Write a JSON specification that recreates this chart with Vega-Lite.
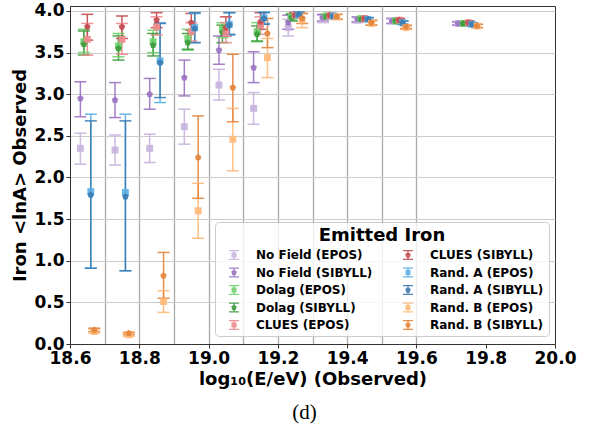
{
  "$schema": "https://vega.github.io/schema/vega-lite/v6.json",
  "width": 485,
  "height": 338,
  "autosize": {"type": "none"},
  "padding": {"left": 70, "top": 6, "right": 37, "bottom": 86},
  "title": {"text": "(d)", "orient": "bottom", "anchor": "middle", "font": "Liberation Serif", "fontSize": 21, "fontWeight": "normal", "color": "black", "offset": 14, "dx": -8},
  "config": {
    "view": {"stroke": "#333333", "strokeWidth": 1},
    "font": "DejaVu Sans"
  },
  "data": {"values": [
    {"s":"No Field (EPOS)","m":"EPOS","x":18.63,"y":2.35,"lo":2.16,"hi":2.53},
    {"s":"No Field (EPOS)","m":"EPOS","x":18.73,"y":2.33,"lo":2.15,"hi":2.51},
    {"s":"No Field (EPOS)","m":"EPOS","x":18.83,"y":2.35,"lo":2.18,"hi":2.52},
    {"s":"No Field (EPOS)","m":"EPOS","x":18.93,"y":2.61,"lo":2.40,"hi":2.82},
    {"s":"No Field (EPOS)","m":"EPOS","x":19.03,"y":3.11,"lo":2.93,"hi":3.30},
    {"s":"No Field (EPOS)","m":"EPOS","x":19.13,"y":2.83,"lo":2.64,"hi":3.02},
    {"s":"No Field (EPOS)","m":"EPOS","x":19.23,"y":3.80,"lo":3.70,"hi":3.90},
    {"s":"No Field (EPOS)","m":"EPOS","x":19.33,"y":3.91,"lo":3.86,"hi":3.95},
    {"s":"No Field (EPOS)","m":"EPOS","x":19.43,"y":3.89,"lo":3.86,"hi":3.92},
    {"s":"No Field (EPOS)","m":"EPOS","x":19.53,"y":3.88,"lo":3.85,"hi":3.91},
    {"s":"No Field (EPOS)","m":"EPOS","x":19.72,"y":3.85,"lo":3.83,"hi":3.87},
    {"s":"No Field (SIBYLL)","m":"SIBYLL","x":18.63,"y":2.95,"lo":2.73,"hi":3.15},
    {"s":"No Field (SIBYLL)","m":"SIBYLL","x":18.73,"y":2.93,"lo":2.72,"hi":3.14},
    {"s":"No Field (SIBYLL)","m":"SIBYLL","x":18.83,"y":3.00,"lo":2.82,"hi":3.19},
    {"s":"No Field (SIBYLL)","m":"SIBYLL","x":18.93,"y":3.20,"lo":2.98,"hi":3.41},
    {"s":"No Field (SIBYLL)","m":"SIBYLL","x":19.03,"y":3.53,"lo":3.36,"hi":3.70},
    {"s":"No Field (SIBYLL)","m":"SIBYLL","x":19.13,"y":3.32,"lo":3.14,"hi":3.51},
    {"s":"No Field (SIBYLL)","m":"SIBYLL","x":19.23,"y":3.86,"lo":3.78,"hi":3.95},
    {"s":"No Field (SIBYLL)","m":"SIBYLL","x":19.33,"y":3.92,"lo":3.88,"hi":3.96},
    {"s":"No Field (SIBYLL)","m":"SIBYLL","x":19.43,"y":3.90,"lo":3.87,"hi":3.93},
    {"s":"No Field (SIBYLL)","m":"SIBYLL","x":19.53,"y":3.88,"lo":3.85,"hi":3.91},
    {"s":"No Field (SIBYLL)","m":"SIBYLL","x":19.72,"y":3.85,"lo":3.83,"hi":3.87},
    {"s":"Dolag (EPOS)","m":"EPOS","x":18.64,"y":3.63,"lo":3.50,"hi":3.78},
    {"s":"Dolag (EPOS)","m":"EPOS","x":18.74,"y":3.58,"lo":3.45,"hi":3.73},
    {"s":"Dolag (EPOS)","m":"EPOS","x":18.84,"y":3.63,"lo":3.50,"hi":3.77},
    {"s":"Dolag (EPOS)","m":"EPOS","x":18.94,"y":3.67,"lo":3.53,"hi":3.78},
    {"s":"Dolag (EPOS)","m":"EPOS","x":19.04,"y":3.78,"lo":3.68,"hi":3.86},
    {"s":"Dolag (EPOS)","m":"EPOS","x":19.14,"y":3.75,"lo":3.63,"hi":3.86},
    {"s":"Dolag (EPOS)","m":"EPOS","x":19.24,"y":3.93,"lo":3.89,"hi":3.97},
    {"s":"Dolag (EPOS)","m":"EPOS","x":19.34,"y":3.94,"lo":3.92,"hi":3.96},
    {"s":"Dolag (EPOS)","m":"EPOS","x":19.44,"y":3.91,"lo":3.89,"hi":3.93},
    {"s":"Dolag (EPOS)","m":"EPOS","x":19.54,"y":3.88,"lo":3.86,"hi":3.90},
    {"s":"Dolag (EPOS)","m":"EPOS","x":19.735,"y":3.85,"lo":3.83,"hi":3.87},
    {"s":"Dolag (SIBYLL)","m":"SIBYLL","x":18.64,"y":3.60,"lo":3.47,"hi":3.76},
    {"s":"Dolag (SIBYLL)","m":"SIBYLL","x":18.74,"y":3.55,"lo":3.41,"hi":3.70},
    {"s":"Dolag (SIBYLL)","m":"SIBYLL","x":18.84,"y":3.59,"lo":3.46,"hi":3.73},
    {"s":"Dolag (SIBYLL)","m":"SIBYLL","x":18.94,"y":3.62,"lo":3.54,"hi":3.73},
    {"s":"Dolag (SIBYLL)","m":"SIBYLL","x":19.04,"y":3.74,"lo":3.62,"hi":3.83},
    {"s":"Dolag (SIBYLL)","m":"SIBYLL","x":19.14,"y":3.72,"lo":3.64,"hi":3.82},
    {"s":"Dolag (SIBYLL)","m":"SIBYLL","x":19.24,"y":3.92,"lo":3.88,"hi":3.96},
    {"s":"Dolag (SIBYLL)","m":"SIBYLL","x":19.34,"y":3.93,"lo":3.91,"hi":3.95},
    {"s":"Dolag (SIBYLL)","m":"SIBYLL","x":19.44,"y":3.90,"lo":3.88,"hi":3.92},
    {"s":"Dolag (SIBYLL)","m":"SIBYLL","x":19.54,"y":3.88,"lo":3.86,"hi":3.90},
    {"s":"Dolag (SIBYLL)","m":"SIBYLL","x":19.735,"y":3.85,"lo":3.83,"hi":3.87},
    {"s":"CLUES (EPOS)","m":"EPOS","x":18.65,"y":3.66,"lo":3.47,"hi":3.85},
    {"s":"CLUES (EPOS)","m":"EPOS","x":18.75,"y":3.66,"lo":3.48,"hi":3.85},
    {"s":"CLUES (EPOS)","m":"EPOS","x":18.85,"y":3.81,"lo":3.71,"hi":3.93},
    {"s":"CLUES (EPOS)","m":"EPOS","x":18.95,"y":3.75,"lo":3.64,"hi":3.86},
    {"s":"CLUES (EPOS)","m":"EPOS","x":19.05,"y":3.73,"lo":3.62,"hi":3.86},
    {"s":"CLUES (EPOS)","m":"EPOS","x":19.15,"y":3.83,"lo":3.72,"hi":3.93},
    {"s":"CLUES (EPOS)","m":"EPOS","x":19.25,"y":3.95,"lo":3.92,"hi":3.98},
    {"s":"CLUES (EPOS)","m":"EPOS","x":19.35,"y":3.94,"lo":3.92,"hi":3.96},
    {"s":"CLUES (EPOS)","m":"EPOS","x":19.45,"y":3.91,"lo":3.89,"hi":3.93},
    {"s":"CLUES (EPOS)","m":"EPOS","x":19.55,"y":3.89,"lo":3.87,"hi":3.91},
    {"s":"CLUES (EPOS)","m":"EPOS","x":19.75,"y":3.86,"lo":3.84,"hi":3.88},
    {"s":"CLUES (SIBYLL)","m":"SIBYLL","x":18.65,"y":3.81,"lo":3.65,"hi":3.96},
    {"s":"CLUES (SIBYLL)","m":"SIBYLL","x":18.75,"y":3.81,"lo":3.67,"hi":3.94},
    {"s":"CLUES (SIBYLL)","m":"SIBYLL","x":18.85,"y":3.89,"lo":3.80,"hi":3.98},
    {"s":"CLUES (SIBYLL)","m":"SIBYLL","x":18.95,"y":3.86,"lo":3.77,"hi":3.97},
    {"s":"CLUES (SIBYLL)","m":"SIBYLL","x":19.05,"y":3.80,"lo":3.70,"hi":3.93},
    {"s":"CLUES (SIBYLL)","m":"SIBYLL","x":19.15,"y":3.87,"lo":3.78,"hi":3.98},
    {"s":"CLUES (SIBYLL)","m":"SIBYLL","x":19.25,"y":3.95,"lo":3.92,"hi":3.98},
    {"s":"CLUES (SIBYLL)","m":"SIBYLL","x":19.35,"y":3.95,"lo":3.93,"hi":3.97},
    {"s":"CLUES (SIBYLL)","m":"SIBYLL","x":19.45,"y":3.91,"lo":3.89,"hi":3.93},
    {"s":"CLUES (SIBYLL)","m":"SIBYLL","x":19.55,"y":3.89,"lo":3.87,"hi":3.91},
    {"s":"CLUES (SIBYLL)","m":"SIBYLL","x":19.75,"y":3.86,"lo":3.84,"hi":3.88},
    {"s":"Rand. A (EPOS)","m":"EPOS","x":18.66,"y":1.83,"lo":0.91,"hi":2.76},
    {"s":"Rand. A (EPOS)","m":"EPOS","x":18.76,"y":1.82,"lo":0.88,"hi":2.76},
    {"s":"Rand. A (EPOS)","m":"EPOS","x":18.86,"y":3.40,"lo":2.90,"hi":3.86},
    {"s":"Rand. A (EPOS)","m":"EPOS","x":18.96,"y":3.80,"lo":3.62,"hi":3.97},
    {"s":"Rand. A (EPOS)","m":"EPOS","x":19.06,"y":3.84,"lo":3.71,"hi":3.98},
    {"s":"Rand. A (EPOS)","m":"EPOS","x":19.16,"y":3.92,"lo":3.85,"hi":3.99},
    {"s":"Rand. A (EPOS)","m":"EPOS","x":19.26,"y":3.95,"lo":3.92,"hi":3.98},
    {"s":"Rand. A (EPOS)","m":"EPOS","x":19.36,"y":3.94,"lo":3.92,"hi":3.96},
    {"s":"Rand. A (EPOS)","m":"EPOS","x":19.46,"y":3.90,"lo":3.88,"hi":3.92},
    {"s":"Rand. A (EPOS)","m":"EPOS","x":19.56,"y":3.86,"lo":3.84,"hi":3.88},
    {"s":"Rand. A (EPOS)","m":"EPOS","x":19.76,"y":3.84,"lo":3.82,"hi":3.86},
    {"s":"Rand. A (SIBYLL)","m":"SIBYLL","x":18.66,"y":1.79,"lo":0.91,"hi":2.68},
    {"s":"Rand. A (SIBYLL)","m":"SIBYLL","x":18.76,"y":1.77,"lo":0.88,"hi":2.68},
    {"s":"Rand. A (SIBYLL)","m":"SIBYLL","x":18.86,"y":3.38,"lo":2.96,"hi":3.85},
    {"s":"Rand. A (SIBYLL)","m":"SIBYLL","x":18.96,"y":3.79,"lo":3.62,"hi":3.98},
    {"s":"Rand. A (SIBYLL)","m":"SIBYLL","x":19.06,"y":3.83,"lo":3.72,"hi":3.98},
    {"s":"Rand. A (SIBYLL)","m":"SIBYLL","x":19.16,"y":3.91,"lo":3.84,"hi":3.98},
    {"s":"Rand. A (SIBYLL)","m":"SIBYLL","x":19.26,"y":3.96,"lo":3.93,"hi":3.99},
    {"s":"Rand. A (SIBYLL)","m":"SIBYLL","x":19.36,"y":3.94,"lo":3.92,"hi":3.96},
    {"s":"Rand. A (SIBYLL)","m":"SIBYLL","x":19.46,"y":3.90,"lo":3.88,"hi":3.92},
    {"s":"Rand. A (SIBYLL)","m":"SIBYLL","x":19.56,"y":3.86,"lo":3.84,"hi":3.88},
    {"s":"Rand. A (SIBYLL)","m":"SIBYLL","x":19.76,"y":3.84,"lo":3.82,"hi":3.86},
    {"s":"Rand. B (EPOS)","m":"EPOS","x":18.67,"y":0.15,"lo":0.13,"hi":0.18},
    {"s":"Rand. B (EPOS)","m":"EPOS","x":18.77,"y":0.11,"lo":0.09,"hi":0.13},
    {"s":"Rand. B (EPOS)","m":"EPOS","x":18.87,"y":0.51,"lo":0.38,"hi":0.64},
    {"s":"Rand. B (EPOS)","m":"EPOS","x":18.97,"y":1.60,"lo":1.27,"hi":1.93},
    {"s":"Rand. B (EPOS)","m":"EPOS","x":19.07,"y":2.46,"lo":2.08,"hi":2.83},
    {"s":"Rand. B (EPOS)","m":"EPOS","x":19.17,"y":3.44,"lo":3.20,"hi":3.67},
    {"s":"Rand. B (EPOS)","m":"EPOS","x":19.27,"y":3.89,"lo":3.80,"hi":3.97},
    {"s":"Rand. B (EPOS)","m":"EPOS","x":19.37,"y":3.93,"lo":3.90,"hi":3.96},
    {"s":"Rand. B (EPOS)","m":"EPOS","x":19.47,"y":3.85,"lo":3.83,"hi":3.88},
    {"s":"Rand. B (EPOS)","m":"EPOS","x":19.57,"y":3.80,"lo":3.78,"hi":3.82},
    {"s":"Rand. B (EPOS)","m":"EPOS","x":19.775,"y":3.82,"lo":3.80,"hi":3.84},
    {"s":"Rand. B (SIBYLL)","m":"SIBYLL","x":18.67,"y":0.17,"lo":0.15,"hi":0.19},
    {"s":"Rand. B (SIBYLL)","m":"SIBYLL","x":18.77,"y":0.13,"lo":0.11,"hi":0.14},
    {"s":"Rand. B (SIBYLL)","m":"SIBYLL","x":18.87,"y":0.82,"lo":0.55,"hi":1.10},
    {"s":"Rand. B (SIBYLL)","m":"SIBYLL","x":18.97,"y":2.24,"lo":1.75,"hi":2.74},
    {"s":"Rand. B (SIBYLL)","m":"SIBYLL","x":19.07,"y":3.08,"lo":2.67,"hi":3.48},
    {"s":"Rand. B (SIBYLL)","m":"SIBYLL","x":19.17,"y":3.73,"lo":3.56,"hi":3.91},
    {"s":"Rand. B (SIBYLL)","m":"SIBYLL","x":19.27,"y":3.91,"lo":3.85,"hi":3.97},
    {"s":"Rand. B (SIBYLL)","m":"SIBYLL","x":19.37,"y":3.93,"lo":3.90,"hi":3.96},
    {"s":"Rand. B (SIBYLL)","m":"SIBYLL","x":19.47,"y":3.86,"lo":3.83,"hi":3.89},
    {"s":"Rand. B (SIBYLL)","m":"SIBYLL","x":19.57,"y":3.81,"lo":3.79,"hi":3.83},
    {"s":"Rand. B (SIBYLL)","m":"SIBYLL","x":19.775,"y":3.82,"lo":3.80,"hi":3.84}
  ]},
  "encoding": {
    "x": {"field": "x", "type": "quantitative",
      "scale": {"domain": [18.6, 20.0], "nice": false, "zero": false},
      "axis": {
        "values": [18.6,18.7,18.8,18.9,19.0,19.1,19.2,19.3,19.4,19.5,19.6,19.7,19.8,19.9,20.0],
        "labelExpr": "round(datum.value*10) % 2 == 0 ? format(datum.value, '.1f') : ''",
        "tickOpacity": {"condition": {"test": "round(datum.value*10) % 2 == 1", "value": 0}, "value": 1},
        "gridOpacity": {"condition": {"test": "datum.value > 19.65 || datum.value < 18.65", "value": 0}, "value": 1},
        "grid": true, "gridColor": "#aaaaaa", "gridWidth": 1.3,
        "domainColor": "#333333", "tickColor": "#333333", "tickSize": 4,
        "labelFont": "DejaVu Sans", "labelFontSize": 17, "labelFontWeight": "bold", "labelColor": "black", "labelPadding": 2, "labelFlush": false,
        "title": "log₁₀(E/eV) (Observed)", "titleFont": "DejaVu Sans", "titleFontSize": 18, "titleFontWeight": "bold", "titleColor": "black", "titlePadding": 4
      }
    },
    "y": {"field": "y", "type": "quantitative",
      "scale": {"domain": [0, 4.06], "nice": false, "zero": false},
      "axis": {
        "values": [0, 0.5, 1.0, 1.5, 2.0, 2.5, 3.0, 3.5, 4.0],
        "format": ".1f",
        "grid": true, "gridColor": "#cccccc", "gridWidth": 1,
        "domainColor": "#333333", "tickColor": "#333333", "tickSize": 4,
        "labelFont": "DejaVu Sans", "labelFontSize": 17, "labelFontWeight": "bold", "labelColor": "black", "labelPadding": 2, "labelFlush": false,
        "title": "Iron <lnA> Observed", "titleFont": "DejaVu Sans", "titleFontSize": 18, "titleFontWeight": "bold", "titleColor": "black", "titlePadding": 4
      }
    },
    "color": {"field": "s", "type": "nominal", "legend": null,
      "scale": {
        "domain": ["No Field (EPOS)", "No Field (SIBYLL)", "Dolag (EPOS)", "Dolag (SIBYLL)", "CLUES (EPOS)", "CLUES (SIBYLL)", "Rand. A (EPOS)", "Rand. A (SIBYLL)", "Rand. B (EPOS)", "Rand. B (SIBYLL)"],
        "range": ["#c7b3de", "#9b72c3", "#6bd36b", "#3d9a3d", "#ec8a8d", "#c4494e", "#5aaee6", "#3a7bb0", "#ffb878", "#e3843a"]
      }
    }
  },
  "resolve": {"scale": {"shape": "independent"}, "legend": {"color": "independent", "shape": "independent"}},
  "layer": [
    {"mark": {"type": "rule", "strokeWidth": 1.5, "opacity": 0.9},
     "encoding": {"y": {"field": "lo", "type": "quantitative"}, "y2": {"field": "hi"}}},
    {"mark": {"type": "tick", "orient": "horizontal", "size": 12, "thickness": 1.5, "opacity": 0.9},
     "encoding": {"y": {"field": "lo", "type": "quantitative"}}},
    {"mark": {"type": "tick", "orient": "horizontal", "size": 12, "thickness": 1.5, "opacity": 0.9},
     "encoding": {"y": {"field": "hi", "type": "quantitative"}}},
    {"mark": {"type": "point", "filled": true, "size": 48, "opacity": 0.9},
     "encoding": {
       "shape": {"field": "m", "type": "nominal", "legend": null,
         "scale": {"domain": ["EPOS", "SIBYLL"], "range": ["square", "M0,-1L0.951,-0.309L0.588,0.809L-0.588,0.809L-0.951,-0.309Z"]}}
     }},
    {"transform": [{"filter": "false"}],
     "mark": {"type": "point", "filled": true, "size": 196, "opacity": 0.9},
     "encoding": {
       "color": {"field": "s", "type": "nominal",
         "legend": {
           "orient": "none", "legendX": 145, "legendY": 216,
           "title": "Emitted Iron", "titleFont": "DejaVu Sans", "titleFontSize": 18, "titleFontWeight": "bold", "titleColor": "black", "titleAnchor": "middle", "titleAlign": "center", "titlePadding": 3,
           "columns": 2, "columnPadding": 21, "rowPadding": 4.5,
           "labelFont": "DejaVu Sans", "labelFontSize": 12, "labelFontWeight": "bold", "labelColor": "black", "labelOffset": 15, "labelLimit": 300,
           "symbolSize": 196, "symbolStrokeWidth": 0, "symbolOffset": 7,
           "padding": 5, "fillColor": "rgba(255,255,255,0.8)", "strokeColor": "#cccccc", "cornerRadius": 4
         }},
       "shape": {"field": "s", "type": "nominal",
         "legend": {
           "orient": "none", "legendX": 145, "legendY": 216,
           "title": "Emitted Iron", "titleFont": "DejaVu Sans", "titleFontSize": 18, "titleFontWeight": "bold", "titleColor": "black", "titleAnchor": "middle", "titleAlign": "center", "titlePadding": 3,
           "columns": 2, "columnPadding": 21, "rowPadding": 4.5,
           "labelFont": "DejaVu Sans", "labelFontSize": 12, "labelFontWeight": "bold", "labelColor": "black", "labelOffset": 15, "labelLimit": 300,
           "symbolSize": 196, "symbolStrokeWidth": 0, "symbolOffset": 7,
           "padding": 5, "fillColor": "rgba(255,255,255,0.8)", "strokeColor": "#cccccc", "cornerRadius": 4
         },
         "scale": {
           "domain": ["No Field (EPOS)", "No Field (SIBYLL)", "Dolag (EPOS)", "Dolag (SIBYLL)", "CLUES (EPOS)", "CLUES (SIBYLL)", "Rand. A (EPOS)", "Rand. A (SIBYLL)", "Rand. B (EPOS)", "Rand. B (SIBYLL)"],
           "range": [
             "M-0.72,-0.72H0.72V-0.52H-0.72ZM-0.1,-0.72H0.1V0.72H-0.1ZM-0.72,0.52H0.72V0.72H-0.72ZM-0.36,-0.36H0.36V0.36H-0.36Z",
             "M-0.72,-0.72H0.72V-0.52H-0.72ZM-0.1,-0.72H0.1V0.72H-0.1ZM-0.72,0.52H0.72V0.72H-0.72ZM0,-0.42L0.4,-0.13L0.25,0.34L-0.25,0.34L-0.4,-0.13Z",
             "M-0.72,-0.72H0.72V-0.52H-0.72ZM-0.1,-0.72H0.1V0.72H-0.1ZM-0.72,0.52H0.72V0.72H-0.72ZM-0.36,-0.36H0.36V0.36H-0.36Z",
             "M-0.72,-0.72H0.72V-0.52H-0.72ZM-0.1,-0.72H0.1V0.72H-0.1ZM-0.72,0.52H0.72V0.72H-0.72ZM0,-0.42L0.4,-0.13L0.25,0.34L-0.25,0.34L-0.4,-0.13Z",
             "M-0.72,-0.72H0.72V-0.52H-0.72ZM-0.1,-0.72H0.1V0.72H-0.1ZM-0.72,0.52H0.72V0.72H-0.72ZM-0.36,-0.36H0.36V0.36H-0.36Z",
             "M-0.72,-0.72H0.72V-0.52H-0.72ZM-0.1,-0.72H0.1V0.72H-0.1ZM-0.72,0.52H0.72V0.72H-0.72ZM0,-0.42L0.4,-0.13L0.25,0.34L-0.25,0.34L-0.4,-0.13Z",
             "M-0.72,-0.72H0.72V-0.52H-0.72ZM-0.1,-0.72H0.1V0.72H-0.1ZM-0.72,0.52H0.72V0.72H-0.72ZM-0.36,-0.36H0.36V0.36H-0.36Z",
             "M-0.72,-0.72H0.72V-0.52H-0.72ZM-0.1,-0.72H0.1V0.72H-0.1ZM-0.72,0.52H0.72V0.72H-0.72ZM0,-0.42L0.4,-0.13L0.25,0.34L-0.25,0.34L-0.4,-0.13Z",
             "M-0.72,-0.72H0.72V-0.52H-0.72ZM-0.1,-0.72H0.1V0.72H-0.1ZM-0.72,0.52H0.72V0.72H-0.72ZM-0.36,-0.36H0.36V0.36H-0.36Z",
             "M-0.72,-0.72H0.72V-0.52H-0.72ZM-0.1,-0.72H0.1V0.72H-0.1ZM-0.72,0.52H0.72V0.72H-0.72ZM0,-0.42L0.4,-0.13L0.25,0.34L-0.25,0.34L-0.4,-0.13Z"
           ]
         }}
     }}
  ]
}
